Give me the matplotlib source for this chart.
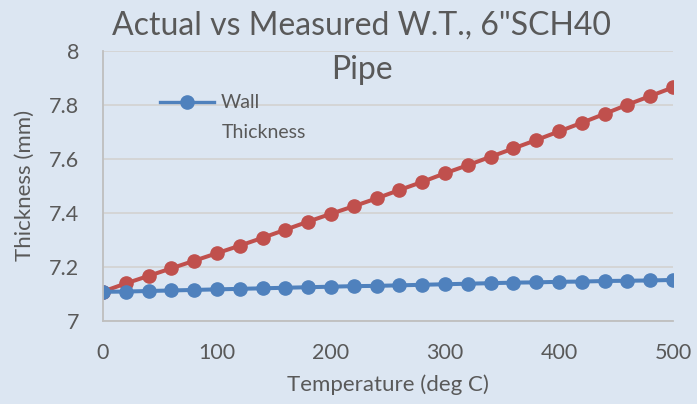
import numpy as np
import matplotlib
matplotlib.use("Agg")
import matplotlib.pyplot as plt

temps = list(range(0, 501, 20))
measured = [7.108, 7.138, 7.166, 7.194, 7.222, 7.250, 7.278, 7.307, 7.337, 7.367,
            7.396, 7.424, 7.453, 7.484, 7.514, 7.546, 7.576, 7.607, 7.638, 7.669,
            7.701, 7.733, 7.766, 7.800, 7.832, 7.864]
wall = [7.107, 7.108, 7.110, 7.112, 7.114, 7.116, 7.118, 7.120, 7.122, 7.124,
        7.126, 7.128, 7.129, 7.131, 7.133, 7.135, 7.137, 7.139, 7.141, 7.142,
        7.144, 7.145, 7.147, 7.148, 7.149, 7.151]
x_ticks = [0, 100, 200, 300, 400, 500]
y_ticks = [7, 7.2, 7.4, 7.6, 7.8, 8]
y_labels = ['7', '7.2', '7.4', '7.6', '7.8', '8']

bg = '#dce6f2'
txt = '#595959'
plt.rcParams['font.family'] = ['Lato', 'DejaVu Sans']

W, H = 697, 404
fig = plt.figure(figsize=(W / 100, H / 100), dpi=100, facecolor=bg)
ax = fig.add_axes([103 / W, 1 - 320.7 / H, 570 / W, 270 / H], facecolor=bg)

ax.plot(temps, measured, color='#c0504d', lw=2.9, marker='o', ms=9.5, zorder=3)
blue, = ax.plot(temps, wall, color='#4f81bd', lw=2.9, marker='o', ms=9.5, zorder=3)

ax.set_xlim(0, 500)
ax.set_ylim(7, 8)
ax.set_xticks(x_ticks)
ax.set_yticks(y_ticks)
ax.set_yticklabels(y_labels)
ax.tick_params(length=0, labelsize=15.5, labelcolor=txt)
ax.tick_params(axis='x', pad=16)
ax.tick_params(axis='y', pad=17)
ax.grid(axis='y', color='#d4d4d4', lw=1.3)
ax.set_axisbelow(True)
for s in ['top', 'right']:
    ax.spines[s].set_visible(False)
for s in ['left', 'bottom']:
    ax.spines[s].set_color('#bfbfbf')
    ax.spines[s].set_linewidth(1.3)
ax.spines['left'].set_zorder(4)

ax.set_xlabel('Temperature (deg C)', fontsize=16, color=txt, labelpad=8)
ax.set_ylabel('Thickness (mm)', fontsize=16, color=txt, labelpad=10)

fig.text(362 / W, 1 - 48 / H, 'Actual vs Measured W.T., 6"SCH40\nPipe',
         ha='center', va='center', fontsize=23, color=txt, linespacing=1.6)

leg = ax.legend([blue], ['Wall'], loc='center left', frameon=False,
                bbox_to_anchor=(160 / W, 1 - 103 / H), bbox_transform=fig.transFigure,
                fontsize=14, handlelength=2.8, handletextpad=0.3,
                borderaxespad=0, borderpad=0)
for t in leg.get_texts():
    t.set_color(txt)
for h in leg.legend_handles:
    h.set_linewidth(2.4)
fig.text(222 / W, 1 - 132 / H, 'Thickness', ha='left', va='center',
         fontsize=14, color=txt)

fig.savefig('out.png', dpi=100, facecolor=bg)
